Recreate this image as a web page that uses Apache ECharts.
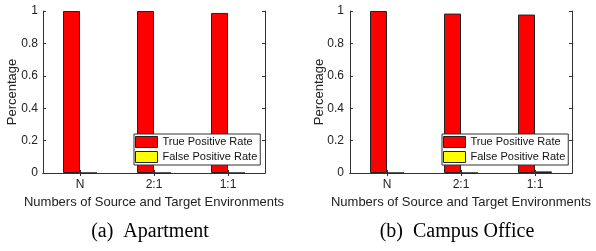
<!DOCTYPE html>
<html>
<head>
<meta charset="utf-8">
<script src="https://cdn.jsdelivr.net/npm/echarts@6/dist/echarts.min.js"></script>
<style>
  html, body { margin: 0; padding: 0; background: #fff; }
  #chart { width: 596px; height: 251px; }
</style>
</head>
<body>
<div id="chart"></div>
<script>
const categories = ["N", "2:1", "1:1"];
const yTicks = [0, 0.2, 0.4, 0.6, 0.8, 1];
// (a) Apartment
const aptTrue = [1, 1, 0.988];
const aptFalse = [0, 0, 0];
// (b) Campus Office
const officeTrue = [1, 0.984, 0.978];
const officeFalse = [0, 0, 0.01];
const captions = ["(a)  Apartment", "(b)  Campus Office"];

const axisColor = "#333";
const font = "Liberation Sans";

function xAxisPair(gi) {
  const base = {
    type: "category",
    gridIndex: gi,
    data: categories,
    axisLine: { lineStyle: { color: axisColor, width: 1 } },
    axisTick: { show: true, inside: true, length: 3, alignWithLabel: true, lineStyle: { color: axisColor } },
    splitLine: { show: false }
  };
  return [
    Object.assign({}, base, {
      position: "bottom",
      axisLabel: { color: "#222", fontFamily: font, fontSize: 12, margin: 6 },
      name: "Numbers of Source and Target Environments",
      nameLocation: "middle",
      nameGap: 23,
      nameMoveOverlap: false,
      nameTextStyle: { color: "#222", fontFamily: font, fontSize: 13 }
    }),
    Object.assign({}, base, { position: "top", axisLabel: { show: false } })
  ];
}

function yAxisPair(gi) {
  const base = {
    type: "value",
    gridIndex: gi,
    min: 0, max: 1, interval: 0.2,
    axisLine: { show: true, lineStyle: { color: axisColor, width: 1 } },
    axisTick: { show: true, inside: true, length: 3, lineStyle: { color: axisColor } },
    splitLine: { show: false }
  };
  return [
    Object.assign({}, base, {
      position: "left",
      axisLabel: {
        color: "#222", fontFamily: font, fontSize: 12, margin: gi === 0 ? 5 : 6,
        formatter: v => (yTicks.indexOf(+v.toFixed(1)) >= 0 ? String(+v.toFixed(1)) : "")
      },
      name: "Percentage",
      nameLocation: "middle",
      nameGap: 24,
      nameMoveOverlap: false,
      nameTextStyle: { color: "#222", fontFamily: font, fontSize: 13 }
    }),
    Object.assign({}, base, { position: "right", axisLabel: { show: false } })
  ];
}

function bars(name, color, data, gi) {
  return {
    name: name,
    type: "bar",
    xAxisIndex: gi * 2,
    yAxisIndex: gi * 2,
    data: data,
    barWidth: 17,
    barGap: "0%",
    itemStyle: { color: color, borderColor: "#222", borderWidth: 1 }
  };
}

function legendAt(left) {
  return {
    left: left, top: 134,
    orient: "vertical",
    icon: "rect",
    data: ["True Positive Rate", "False Positive Rate"].map(n => ({ name: n })),
    itemWidth: 22, itemHeight: 11, itemGap: 3,
    padding: [2, 3, 2, 1],
    backgroundColor: "#fff",
    borderColor: "#333", borderWidth: 1, borderRadius: 0,
    textStyle: { color: "#111", fontFamily: font, fontSize: 11 },
    itemStyle: { borderColor: "#222", borderWidth: 1 },
    selectedMode: false
  };
}

const captionStyle = { fontFamily: "Liberation Serif", fontWeight: "normal", fontSize: 20, color: "#000" };

const chart = echarts.init(document.getElementById("chart"), null, { renderer: "canvas" });
chart.setOption({
  animation: false,
  backgroundColor: "#fff",
  title: [
    { text: captions[0], left: 145, top: 217, textAlign: "center", textStyle: captionStyle },
    { text: captions[1], left: 452, top: 217, textAlign: "center", textStyle: captionStyle }
  ],
  grid: [
    { left: 43, right: 331, top: 11, bottom: 78, containLabel: false },
    { left: 350, right: 24, top: 11, bottom: 78, containLabel: false }
  ],
  legend: [legendAt(134), legendAt(442)],
  xAxis: [...xAxisPair(0), ...xAxisPair(1)],
  yAxis: [...yAxisPair(0), ...yAxisPair(1)],
  series: [
    bars("True Positive Rate", "#ff0000", aptTrue, 0),
    bars("False Positive Rate", "#ffff00", aptFalse, 0),
    bars("True Positive Rate", "#ff0000", officeTrue, 1),
    bars("False Positive Rate", "#ffff00", officeFalse, 1)
  ]
});
</script>
</body>
</html>
